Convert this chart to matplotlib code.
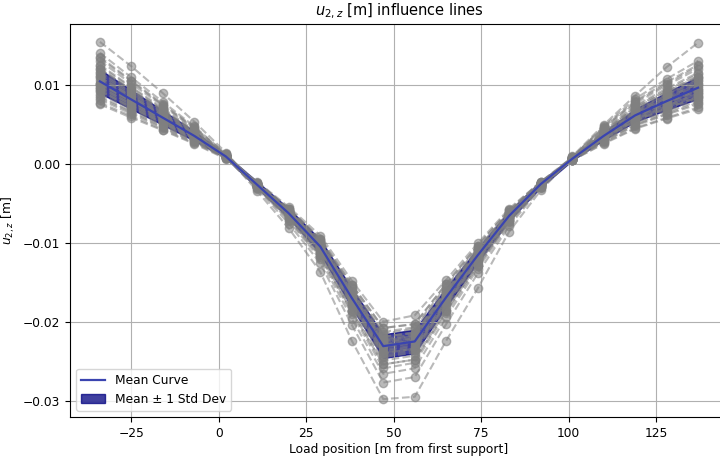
import matplotlib
matplotlib.use('Agg')
import matplotlib.pyplot as plt
import numpy as np

plt.rcParams['font.size'] = 8.8

# load positions [m]
load_pos = [-34, -25, -16, -7, 2, 11, 20, 29, 38, 47, 56, 65, 74, 83, 92, 101, 110, 119, 128, 137]

# mean and std
mean_curve = [0.0104, 0.0081, 0.0058, 0.0035, 0.0009, -0.0027, -0.0063, -0.0105, -0.0170, -0.0231,
              -0.0225, -0.0169, -0.0116, -0.0066, -0.0026, 0.0006, 0.0035, 0.0061, 0.0079, 0.0096]
std_curve = [0.0015, 0.0012, 0.0009, 0.0006, 0.0002, 0.0004, 0.0006, 0.0009, 0.0012, 0.0015,
             0.0015, 0.0012, 0.0009, 0.0006, 0.0004, 0.0002, 0.0005, 0.0008, 0.0011, 0.0014]

# individual influence lines (gray)
curves = [
    [0.0154, 0.0123, 0.0089, 0.0053, 0.0014, -0.0030, -0.0069, -0.0116, -0.0187, -0.0254, -0.0248, -0.0186, -0.0128, -0.0073, -0.0029, 0.0009, 0.0049, 0.0086, 0.0122, 0.0153],
    [0.0120, 0.0093, 0.0067, 0.0040, 0.0010, -0.0035, -0.0082, -0.0137, -0.0224, -0.0298, -0.0295, -0.0224, -0.0158, -0.0086, -0.0034, 0.0007, 0.0040, 0.0070, 0.0091, 0.0110],
    [0.0075, 0.0058, 0.0042, 0.0025, 0.0006, -0.0023, -0.0055, -0.0091, -0.0148, -0.0200, -0.0192, -0.0147, -0.0101, -0.0057, -0.0023, 0.0004, 0.0025, 0.0044, 0.0057, 0.0069],
    [0.0133, 0.0104, 0.0074, 0.0045, 0.0012, -0.0028, -0.0066, -0.0110, -0.0179, -0.0243, -0.0236, -0.0177, -0.0122, -0.0069, -0.0027, 0.0008, 0.0045, 0.0078, 0.0101, 0.0123],
    [0.0125, 0.0097, 0.0070, 0.0042, 0.0011, -0.0026, -0.0060, -0.0100, -0.0162, -0.0219, -0.0214, -0.0161, -0.0110, -0.0063, -0.0025, 0.0007, 0.0042, 0.0073, 0.0095, 0.0115],
    [0.0114, 0.0089, 0.0064, 0.0039, 0.0010, -0.0028, -0.0064, -0.0107, -0.0173, -0.0236, -0.0230, -0.0172, -0.0118, -0.0067, -0.0027, 0.0007, 0.0039, 0.0067, 0.0087, 0.0106],
    [0.0102, 0.0080, 0.0057, 0.0034, 0.0009, -0.0026, -0.0062, -0.0104, -0.0168, -0.0229, -0.0224, -0.0168, -0.0115, -0.0065, -0.0026, 0.0006, 0.0035, 0.0060, 0.0078, 0.0095],
    [0.0096, 0.0075, 0.0053, 0.0032, 0.0008, -0.0026, -0.0061, -0.0102, -0.0165, -0.0224, -0.0218, -0.0164, -0.0113, -0.0064, -0.0025, 0.0006, 0.0032, 0.0056, 0.0073, 0.0088],
    [0.0088, 0.0069, 0.0049, 0.0030, 0.0008, -0.0029, -0.0068, -0.0113, -0.0184, -0.0249, -0.0243, -0.0183, -0.0125, -0.0071, -0.0028, 0.0005, 0.0030, 0.0052, 0.0067, 0.0082],
    [0.0081, 0.0063, 0.0045, 0.0027, 0.0007, -0.0025, -0.0059, -0.0098, -0.0158, -0.0215, -0.0209, -0.0157, -0.0108, -0.0061, -0.0024, 0.0005, 0.0027, 0.0048, 0.0062, 0.0075],
    [0.0140, 0.0109, 0.0078, 0.0047, 0.0012, -0.0026, -0.0062, -0.0103, -0.0167, -0.0226, -0.0221, -0.0166, -0.0114, -0.0065, -0.0025, 0.0008, 0.0047, 0.0082, 0.0107, 0.0130],
    [0.0077, 0.0060, 0.0043, 0.0026, 0.0007, -0.0024, -0.0057, -0.0095, -0.0153, -0.0208, -0.0203, -0.0152, -0.0104, -0.0059, -0.0023, 0.0004, 0.0026, 0.0045, 0.0058, 0.0071],
    [0.0120, 0.0093, 0.0067, 0.0040, 0.0010, -0.0030, -0.0071, -0.0118, -0.0190, -0.0259, -0.0252, -0.0189, -0.0130, -0.0074, -0.0029, 0.0007, 0.0040, 0.0070, 0.0091, 0.0110],
    [0.0099, 0.0077, 0.0055, 0.0033, 0.0009, -0.0031, -0.0072, -0.0121, -0.0196, -0.0266, -0.0259, -0.0194, -0.0133, -0.0076, -0.0030, 0.0006, 0.0033, 0.0058, 0.0075, 0.0091],
    [0.0130, 0.0101, 0.0073, 0.0044, 0.0011, -0.0024, -0.0057, -0.0095, -0.0153, -0.0208, -0.0203, -0.0152, -0.0104, -0.0059, -0.0023, 0.0008, 0.0044, 0.0076, 0.0099, 0.0120],
    [0.0092, 0.0071, 0.0051, 0.0031, 0.0008, -0.0032, -0.0076, -0.0126, -0.0204, -0.0277, -0.0270, -0.0203, -0.0139, -0.0079, -0.0031, 0.0005, 0.0031, 0.0054, 0.0070, 0.0084],
    [0.0109, 0.0085, 0.0061, 0.0037, 0.0009, -0.0027, -0.0062, -0.0104, -0.0168, -0.0229, -0.0223, -0.0167, -0.0115, -0.0065, -0.0026, 0.0006, 0.0037, 0.0064, 0.0083, 0.0101],
    [0.0101, 0.0079, 0.0056, 0.0034, 0.0009, -0.0028, -0.0066, -0.0109, -0.0177, -0.0240, -0.0234, -0.0176, -0.0121, -0.0069, -0.0027, 0.0006, 0.0034, 0.0059, 0.0077, 0.0093],
    [0.0116, 0.0091, 0.0065, 0.0039, 0.0010, -0.0026, -0.0060, -0.0101, -0.0163, -0.0222, -0.0216, -0.0162, -0.0111, -0.0063, -0.0025, 0.0007, 0.0039, 0.0068, 0.0088, 0.0108],
    [0.0085, 0.0066, 0.0048, 0.0029, 0.0007, -0.0027, -0.0063, -0.0105, -0.0170, -0.0231, -0.0225, -0.0169, -0.0116, -0.0066, -0.0026, 0.0005, 0.0029, 0.0050, 0.0065, 0.0079],
    [0.0112, 0.0087, 0.0063, 0.0038, 0.0010, -0.0028, -0.0065, -0.0108, -0.0175, -0.0238, -0.0232, -0.0174, -0.0119, -0.0068, -0.0027, 0.0006, 0.0038, 0.0066, 0.0085, 0.0104],
    [0.0097, 0.0075, 0.0054, 0.0033, 0.0008, -0.0026, -0.0062, -0.0103, -0.0167, -0.0226, -0.0221, -0.0166, -0.0114, -0.0065, -0.0025, 0.0006, 0.0033, 0.0057, 0.0073, 0.0089],
    [0.0106, 0.0083, 0.0059, 0.0036, 0.0009, -0.0029, -0.0067, -0.0111, -0.0180, -0.0245, -0.0239, -0.0179, -0.0123, -0.0070, -0.0028, 0.0006, 0.0036, 0.0062, 0.0081, 0.0098],
    [0.0101, 0.0079, 0.0056, 0.0034, 0.0009, -0.0026, -0.0060, -0.0100, -0.0162, -0.0219, -0.0214, -0.0161, -0.0110, -0.0063, -0.0025, 0.0006, 0.0034, 0.0059, 0.0077, 0.0093],
    [0.0123, 0.0096, 0.0068, 0.0041, 0.0011, -0.0027, -0.0063, -0.0105, -0.0170, -0.0231, -0.0225, -0.0169, -0.0116, -0.0066, -0.0026, 0.0007, 0.0041, 0.0072, 0.0093, 0.0113],
    [0.0092, 0.0071, 0.0051, 0.0031, 0.0008, -0.0027, -0.0064, -0.0106, -0.0172, -0.0233, -0.0227, -0.0171, -0.0117, -0.0067, -0.0026, 0.0005, 0.0031, 0.0054, 0.0070, 0.0084],
    [0.0109, 0.0085, 0.0061, 0.0037, 0.0009, -0.0025, -0.0058, -0.0097, -0.0156, -0.0213, -0.0207, -0.0155, -0.0107, -0.0061, -0.0024, 0.0006, 0.0037, 0.0064, 0.0083, 0.0101],
    [0.0094, 0.0073, 0.0052, 0.0032, 0.0008, -0.0030, -0.0069, -0.0116, -0.0187, -0.0254, -0.0248, -0.0186, -0.0128, -0.0073, -0.0029, 0.0005, 0.0032, 0.0055, 0.0071, 0.0086],
    [0.0135, 0.0105, 0.0075, 0.0046, 0.0012, -0.0028, -0.0066, -0.0109, -0.0177, -0.0240, -0.0234, -0.0176, -0.0121, -0.0069, -0.0027, 0.0008, 0.0046, 0.0079, 0.0103, 0.0125],
    [0.0083, 0.0065, 0.0046, 0.0028, 0.0007, -0.0026, -0.0061, -0.0102, -0.0165, -0.0224, -0.0218, -0.0164, -0.0113, -0.0064, -0.0025, 0.0005, 0.0028, 0.0049, 0.0063, 0.0077],
]

fig = plt.figure(figsize=(7.2, 4.57), dpi=100)
ax = fig.add_axes([70/720, 40/457, 658/720, 393/457])

x = np.array(load_pos)
mean = np.array(mean_curve)
std = np.array(std_curve)

for c in curves:
    ax.plot(x, c, linestyle='--', marker='o', color='gray', alpha=0.55, markersize=6, zorder=2)

ax.plot(x, mean, color='#3a44b0', linewidth=1.6, label='Mean Curve', zorder=3)
ax.fill_between(x, mean - std, mean + std, color='navy', alpha=0.75, label='Mean \u00b1 1 Std Dev', zorder=1)

ax.set_title(r'$u_{2,z}$ [m] influence lines', fontsize=10.5)
ax.set_xlabel('Load position [m from first support]', labelpad=2)
ax.set_ylabel(r'$u_{2,z}$ [m]')
ax.grid(True)
ax.legend(loc='lower left')

fig.savefig('out.png', dpi=100)
